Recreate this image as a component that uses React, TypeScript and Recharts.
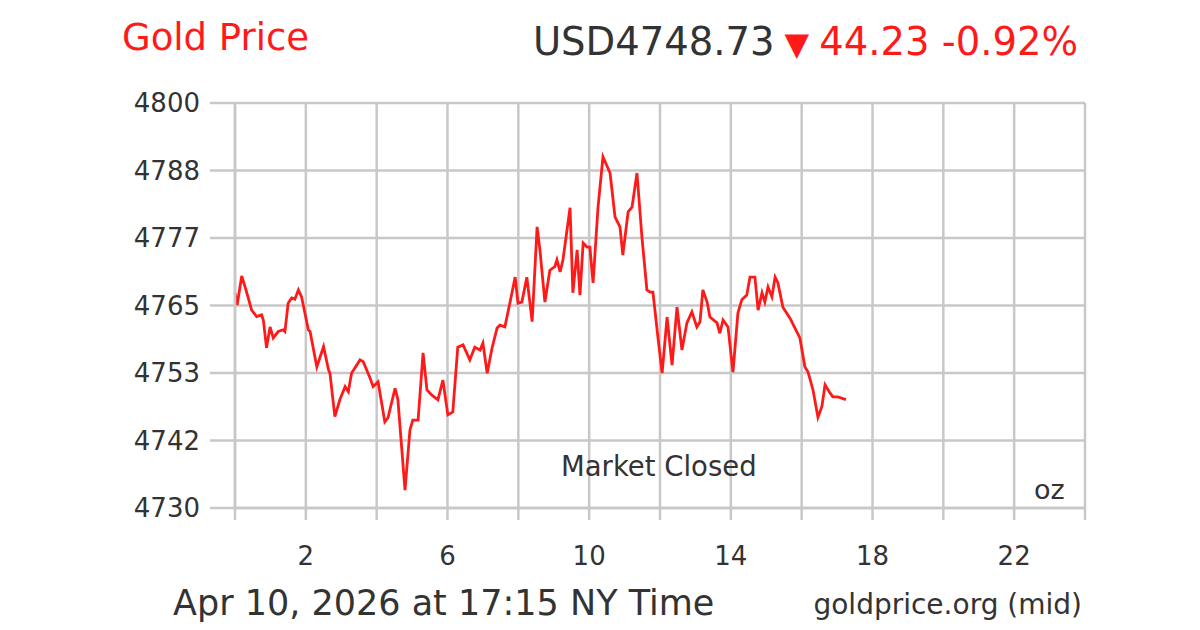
import { LineChart, Line, XAxis, YAxis, CartesianGrid } from "recharts";

const hours = [
  0, 0.06, 0.19, 0.31, 0.47, 0.61, 0.75, 0.8, 0.89, 0.99, 1.08, 1.22, 1.36, 1.41, 1.5, 1.6, 1.69, 1.79, 1.88,
  2.07, 2.12, 2.31, 2.5, 2.64, 2.68, 2.82, 2.96, 3.11, 3.2, 3.29, 3.53, 3.62, 3.81, 3.9, 4.04,
  4.23, 4.32, 4.52, 4.6, 4.8, 4.94, 5.02, 5.17, 5.31, 5.42, 5.56, 5.73, 5.87, 6.01, 6.15,
  6.29, 6.44, 6.63, 6.77, 6.92, 7.0, 7.12, 7.26, 7.4, 7.48, 7.62, 7.76, 7.91, 7.99,
  8.1, 8.24, 8.39, 8.53, 8.61, 8.75, 8.89, 9.03, 9.09, 9.18, 9.26, 9.46, 9.54, 9.66, 9.74, 9.83, 9.94,
  10.02, 10.11, 10.25, 10.39, 10.59, 10.73, 10.87, 10.95, 11.1, 11.21, 11.35, 11.49, 11.63, 11.72, 11.8, 11.94,
  12.06, 12.2, 12.34, 12.48, 12.62, 12.76, 12.9, 13.04, 13.13, 13.21, 13.33, 13.41, 13.61, 13.69, 13.78, 13.92,
  14.06, 14.2, 14.31, 14.45, 14.54, 14.68, 14.77, 14.88, 14.96, 15.05, 15.16, 15.25, 15.33, 15.47, 15.67, 15.95,
  16.09, 16.18, 16.32, 16.46, 16.57, 16.66, 16.8, 16.88, 17.02, 17.25,
];

const prices = [
  4767.2, 4765.1, 4770.1, 4767.7, 4764.2, 4763.1, 4763.4, 4762.5, 4757.7, 4761.3, 4759.4, 4760.5, 4760.8, 4760.5, 4765.4, 4766.3, 4766.1, 4767.7, 4766.5,
  4760.8, 4760.5, 4754.4, 4757.9, 4753.9, 4753.3, 4745.8, 4748.7, 4751.0, 4750.1, 4753.3, 4755.6, 4755.3, 4752.5, 4751.0, 4751.8,
  4744.9, 4745.6, 4750.7, 4748.7, 4733.1, 4743.5, 4745.2, 4745.2, 4756.8, 4750.4, 4749.5, 4748.7, 4752.1, 4746.1, 4746.6,
  4757.8, 4758.2, 4755.6, 4757.8, 4757.3, 4758.5, 4753.3, 4757.7, 4761.1, 4761.6, 4761.3, 4765.4, 4769.9, 4765.4,
  4765.6, 4769.9, 4762.2, 4778.6, 4774.6, 4765.6, 4771.1, 4771.7, 4772.9, 4770.8, 4772.9, 4781.9, 4767.2, 4774.6, 4766.8, 4775.8, 4775.1,
  4775.1, 4768.9, 4782.0, 4790.7, 4787.9, 4780.3, 4778.6, 4773.7, 4781.2, 4782.0, 4787.9, 4776.8, 4767.7, 4767.3, 4767.3, 4759.6,
  4753.3, 4763.0, 4754.7, 4764.7, 4757.3, 4762.0, 4763.9, 4761.3, 4762.2, 4767.7, 4765.6, 4763.0, 4762.0, 4760.2, 4762.5, 4761.3,
  4753.5, 4763.7, 4766.0, 4766.8, 4769.9, 4769.9, 4764.2, 4767.2, 4765.6, 4768.2, 4766.5, 4769.9, 4768.9, 4764.7, 4762.8, 4759.4,
  4754.4, 4753.5, 4750.4, 4745.7, 4747.5, 4751.3, 4749.9, 4749.2, 4749.2, 4748.73,
];

const xTicks = [0, 2, 4, 6, 8, 10, 12, 14, 16, 18, 20, 22, 24];
const xLabels = [2, 6, 10, 14, 18, 22];
const yTicks = [4730, 4741.667, 4753.333, 4765, 4776.667, 4788.333, 4800];

const data = hours.map((h, i) => ({ h, price: prices[i] }));

const font = "'DejaVu Sans', Verdana, sans-serif";
const red = "#ff1a1a";
const grey = "#c8c8c8";
const dark = "#333333";

const App = () => {
  return (
    <div
      style={{
        position: "absolute",
        left: 0,
        top: 0,
        width: 1200,
        height: 630,
        background: "#fff",
        fontFamily: font,
        overflow: "hidden",
      }}
    >
      <div style={{ position: "absolute", left: 122, top: 16, fontSize: 37, color: red }}>Gold Price</div>
      <div style={{ position: "absolute", right: 122, top: 19, fontSize: 38.5, color: dark, whiteSpace: "nowrap" }}>
        USD4748.73<span style={{ color: red, fontSize: 32 }}> ▼ </span>
        <span style={{ color: red }}>44.23 -0.92%</span>
      </div>

      <LineChart
        width={1200}
        height={630}
        data={data}
        margin={{ top: 103, right: 115, bottom: 92, left: 175 }}
      >
        <CartesianGrid stroke={grey} strokeWidth={2.5} horizontal vertical />
        <XAxis
          type="number"
          dataKey="h"
          domain={[0, 24]}
          ticks={xTicks}
          height={30}
          interval={0}
          tickSize={12}
          tickMargin={27}
          stroke={grey}
          strokeWidth={2.5}
          tickFormatter={(v: number) => (xLabels.includes(v) ? String(v) : "")}
          tick={{ fill: dark, fontSize: 26, fontFamily: font }}
        />
        <YAxis
          type="number"
          domain={[4730, 4800]}
          ticks={yTicks}
          width={60}
          interval={0}
          tickSize={25}
          tickMargin={10}
          stroke={grey}
          strokeWidth={2.5}
          tickFormatter={(v: number) => String(Math.round(v))}
          tick={{ fill: dark, fontSize: 26, fontFamily: font }}
        />
        <Line
          type="linear"
          dataKey="price"
          stroke={red}
          strokeWidth={2.8}
          dot={false}
          isAnimationActive={false}
        />
      </LineChart>

      <div style={{ position: "absolute", left: 561, top: 450, fontSize: 27.5, color: dark }}>Market Closed</div>
      <div style={{ position: "absolute", left: 1034, top: 474, fontSize: 27, color: dark }}>oz</div>
      <div style={{ position: "absolute", left: 173, top: 583, fontSize: 35, color: dark, whiteSpace: "nowrap" }}>
        Apr 10, 2026 at 17:15 NY Time
      </div>
      <div style={{ position: "absolute", right: 118, top: 588, fontSize: 28, color: dark, whiteSpace: "nowrap" }}>
        goldprice.org (mid)
      </div>
    </div>
  );
};

export default App;
